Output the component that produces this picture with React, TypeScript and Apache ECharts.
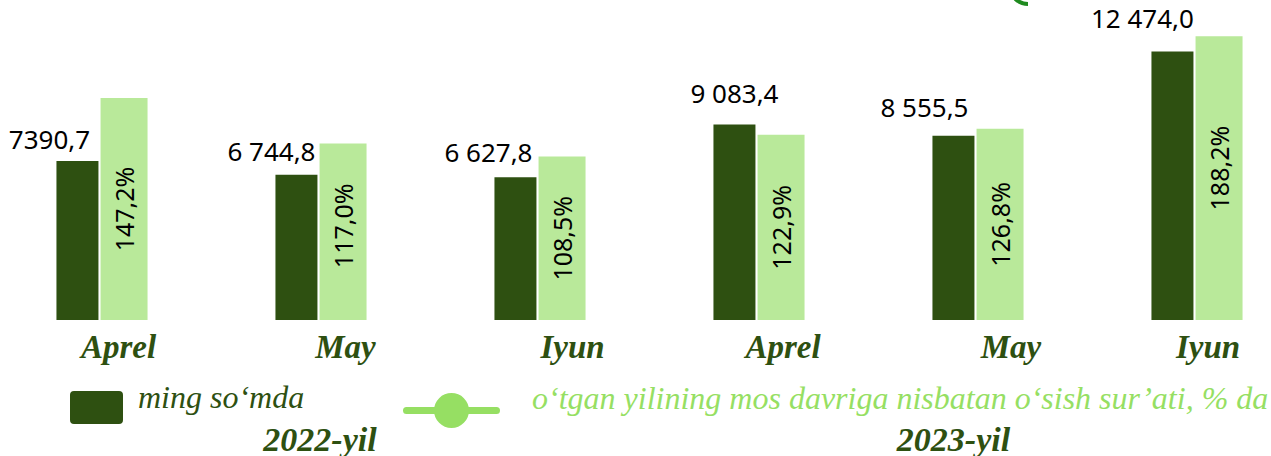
import React, { useEffect, useRef } from 'react';
import * as echarts from 'echarts';

const categories = ['Aprel', 'May', 'Iyun', 'Aprel', 'May', 'Iyun'];
const sums = [7390.7, 6744.8, 6627.8, 9083.4, 8555.5, 12474.0];
const sumLabels = ['7390,7', '6 744,8', '6 627,8', '9 083,4', '8 555,5', '12 474,0'];
const growth = [147.2, 117.0, 108.5, 122.9, 126.8, 188.2];
const years = ['2022-yil', '2023-yil'];
const seriesNames = ['ming so‘mda', 'o‘tgan yilining mos davriga nisbatan o‘sish sur’ati, % da'];

const DARK = '#2e5011';
const LIGHT = '#b9e99a';
const LEG = '#96df63';
const SHIFT = 20; // chart canvas starts this many px left of the page

export default function App() {
  const ref = useRef<HTMLDivElement>(null);
  useEffect(() => {
    document.body.style.margin = '0';
    const chart = echarts.init(ref.current!, null, { renderer: 'svg' });
    const catShift = [16.5, 24.5, 32.5, 24, 33, 11];
    const sumShift: [number, number][] = [[-28, -4], [-25, -6], [-27, -7], [0, -13], [-29, -11], [-30, -15]];
    // rotated labels: local x points up on screen
    const growthShift: [number, number][] = [[0, 0], [6, 0], [0, 0], [0, 0], [0, 0], [10, 0]];
    const yearShift = [-1, -24.5];
    const pad = (s: number) => (s >= 0 ? [0, 0, 0, 2 * s] : [0, -2 * s, 0, 0]);
    const catRich: any = {};
    catShift.forEach((s, i) => {
      catRich['c' + i] = {
        fontFamily: 'Liberation Serif', fontWeight: 'bold', fontStyle: 'italic', fontSize: 33, color: DARK,
        padding: pad(s),
      };
    });
    const yearRich: any = {};
    yearShift.forEach((s, i) => {
      yearRich['y' + i] = {
        fontFamily: 'Liberation Serif', fontWeight: 'bold', fontStyle: 'italic', fontSize: 34, color: DARK,
        padding: pad(s),
      };
    });
    // icons carry an invisible point at their top so the legend text sits above the icon's centre
    const squareIcon = 'path://M0,0 L0.3,0 L0.3,0.01 Z M4,21 L49,21 A4,4 0 0 1 53,25 L53,50 A4,4 0 0 1 49,54 L4,54 A4,4 0 0 1 0,50 L0,25 A4,4 0 0 1 4,21 Z';
    const lineIcon = 'path://M0,0 L0.3,0 L0.3,0.01 Z M3.5,40 L93.5,40 A3.5,3.5 0 0 1 93.5,47 L3.5,47 A3.5,3.5 0 0 1 3.5,40 Z M31,43.5 A17.5,17.5 0 1 1 66,43.5 A17.5,17.5 0 1 1 31,43.5 Z';
    const option: any = {
      animation: false,
      grid: { left: SHIFT - 7.5, width: 1314, top: 21, height: 300 },
      xAxis: [
        {
          type: 'category', data: categories,
          axisLine: { show: false }, axisTick: { show: false },
          axisLabel: {
            margin: 10, interval: 0,
            formatter: (v: string, i: number) => `{c${i}|${v}}`,
            rich: catRich,
          },
        },
        {
          type: 'category', data: years, position: 'bottom', offset: 94,
          axisLine: { show: false }, axisTick: { show: false },
          axisLabel: {
            margin: 8, interval: 0,
            formatter: (v: string, i: number) => `{y${i}|${v}}`,
            rich: yearRich,
          },
        },
      ],
      yAxis: [
        { type: 'value', min: 0, max: 13890, show: false },
        { type: 'value', min: 0, max: 198.3, show: false },
      ],
      legend: [
        {
          data: [{ name: seriesNames[0], icon: squareIcon, itemStyle: { color: DARK } }],
          left: SHIFT + 70, top: 370, padding: 0, itemWidth: 53, itemHeight: 54, selectedMode: false,
          textStyle: { fontFamily: 'Liberation Serif', fontStyle: 'italic', fontSize: 32, color: DARK, padding: [0, 0, 0, 10] },
        },
        {
          data: [{ name: seriesNames[1], icon: lineIcon, itemStyle: { color: LEG } }],
          left: SHIFT + 403, top: 367, padding: 0, itemWidth: 97, itemHeight: 61, selectedMode: false,
          textStyle: { fontFamily: 'Liberation Serif', fontStyle: 'italic', fontSize: 32, color: LEG, padding: [0, 0, 0, 27] },
        },
      ],
      series: [
        {
          name: seriesNames[0], type: 'bar', xAxisIndex: 0, yAxisIndex: 0,
          barWidth: 42, barGap: '5%',
          itemStyle: { color: DARK },
          data: sums.map((v, i) => ({ value: v, label: { offset: sumShift[i] } })),
          label: {
            show: true, position: 'top', distance: 5,
            formatter: (p: any) => sumLabels[p.dataIndex],
            color: '#000', fontFamily: 'Noto Sans', fontSize: 26,
          },
        },
        {
          name: seriesNames[1], type: 'bar', xAxisIndex: 0, yAxisIndex: 1,
          barWidth: 47,
          itemStyle: { color: LIGHT },
          data: growth.map((v, i) => ({ value: v, label: { offset: growthShift[i] } })),
          label: {
            show: true, position: 'inside', rotate: 90,
            formatter: (p: any) => p.value.toFixed(1).replace('.', ',') + '%',
            color: '#000', fontFamily: 'Noto Sans', fontSize: 25,
          },
        },
      ],
      graphic: [
        {
          type: 'arc',
          shape: { cx: SHIFT + 1028, cy: -14, r: 18, startAngle: Math.PI * 0.5, endAngle: Math.PI * 0.75 },
          style: { stroke: '#1f8a1f', lineWidth: 4, fill: 'none' },
        },
      ],
    };
    chart.setOption(option);
    return () => chart.dispose();
  }, []);
  return (
    <div style={{ position: 'relative', width: 1271, height: 456, overflow: 'hidden' }}>
      <div ref={ref} style={{ position: 'absolute', left: -SHIFT, top: 0, width: 1360, height: 456 }} />
    </div>
  );
}
